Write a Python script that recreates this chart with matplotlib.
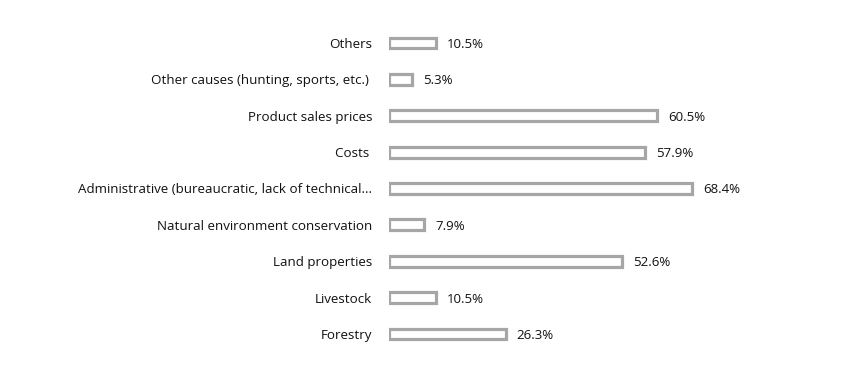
import matplotlib.pyplot as plt
import numpy as np

plt.rcParams['font.family'] = ['Open Sans', 'DejaVu Sans']

categorias = ['Forestry', 'Livestock', 'Land properties',
              'Natural environment conservation',
              'Administrative (bureaucratic, lack of technical...',
              'Costs ', 'Product sales prices',
              'Other causes (hunting, sports, etc.) ', 'Others']
valores = [26.3, 10.5, 52.6, 7.9, 68.4, 57.9, 60.5, 5.3, 10.5]

fig = plt.figure(figsize=(8.57, 3.75), dpi=100)
ax = fig.add_axes([389/857, 1-352.2/375, 443/857, (352.2-24.8)/375])

y = np.arange(len(categorias))
ax.barh(y, valores, height=0.30, color='white', edgecolor='#a6a6a6', linewidth=2.3)
for yi, v in zip(y, valores):
    ax.annotate(f'{v:.1f}%', (v, yi), xytext=(8, -1), textcoords='offset points',
                va='center', ha='left', fontsize=9.5, color='#111111')

ax.set_yticks(y)
ax.set_yticklabels(categorias, fontsize=9.6, color='#111111')
ax.set_xlim(0, 100)
ax.set_ylim(-0.5, len(categorias) - 0.5)
ax.tick_params(axis='y', length=0, pad=12)
ax.set_xticks([])
for s in ax.spines.values():
    s.set_visible(False)

fig.savefig('out.png', dpi=100)
